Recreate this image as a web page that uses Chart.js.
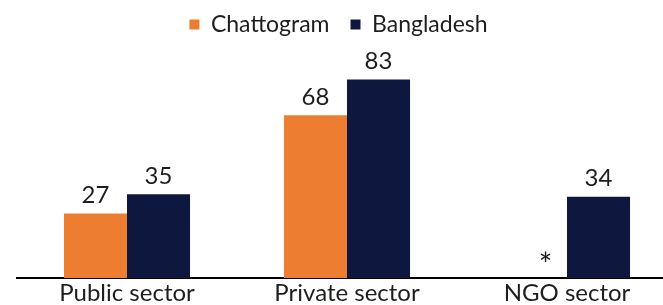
<!DOCTYPE html>
<html>
<head>
<meta charset="utf-8">
<script src="https://cdn.jsdelivr.net/npm/chart.js@4/dist/chart.umd.min.js"></script>
<style>
  html, body { margin: 0; padding: 0; background: #fff; overflow: hidden; }
  #wrap { width: 677px; height: 305px; }
</style>
</head>
<body>
<div id="wrap"><canvas id="sectorChart"></canvas></div>
<script>
// chart data
const sectors = ['Public sector', 'Private sector', 'NGO sector'];
const chattogramValues = [27, 68, null];
const bangladeshValues = [35, 83, 34];
const chattogramNotes = ['', '', '*']; // shown where no value is reported

const ORANGE = '#ED7D31';
const NAVY = '#0E183E';
const TEXT = '#1c1f1c';
const FONT = 'Lato';

// draws the numbers above the bars (and the asterisk for missing data)
const valueLabels = {
    id: 'valueLabels',
    afterDatasetsDraw(chart) {
        const ctx = chart.ctx;
        const yScale = chart.scales.y;
        ctx.save();
        ctx.fillStyle = TEXT;
        ctx.textAlign = 'center';
        chart.data.datasets.forEach((ds, i) => {
            const meta = chart.getDatasetMeta(i);
            meta.data.forEach((bar, j) => {
                const v = ds.data[j];
                if (v === null) {
                    const note = ds.notes ? ds.notes[j] : '';
                    if (note) {
                        ctx.font = '32px ' + FONT;
                        ctx.textBaseline = 'alphabetic';
                        ctx.fillText(note, bar.x + 10, yScale.getPixelForValue(0) - 2);
                    }
                    return;
                }
                ctx.font = '24px ' + FONT;
                ctx.textBaseline = 'bottom';
                ctx.fillText(String(v), bar.x, bar.y - 6);
            });
        });
        ctx.restore();
    }
};

var ctx = document.getElementById('sectorChart').getContext('2d');
var sectorChart = new Chart(ctx, {
    type: 'bar',
    data: {
        labels: sectors,
        datasets: [{
            label: 'Chattogram',
            data: chattogramValues,
            notes: chattogramNotes,
            backgroundColor: ORANGE
        },
        {
            label: 'Bangladesh',
            data: bangladeshValues,
            backgroundColor: NAVY
        }]
    },
    options: {
        responsive: true,
        maintainAspectRatio: false,
        animation: false,
        layout: { padding: { left: 0, right: 0, top: -8, bottom: 0 } },
        datasets: {
            bar: { categoryPercentage: 0.573, barPercentage: 1.0 }
        },
        plugins: {
            legend: {
                position: 'top',
                labels: {
                    boxWidth: 10,
                    boxHeight: 10,
                    padding: 21,
                    color: TEXT,
                    font: { family: FONT, size: 23 }
                }
            },
            tooltip: { enabled: false }
        },
        scales: {
            x: {
                grid: { display: false, drawTicks: false },
                border: { display: true, color: '#000', width: 2 },
                ticks: {
                    color: TEXT,
                    padding: 1,
                    font: { family: FONT, size: 24 }
                },
                afterFit(scale) { scale.height = 27; }
            },
            y: {
                display: true,
                min: 0,
                max: 97,
                grid: { display: false, drawTicks: false },
                border: { display: false },
                ticks: { display: false },
                afterFit(scale) { scale.width = 17; }
            }
        }
    },
    plugins: [valueLabels]
});
</script>
</body>
</html>
